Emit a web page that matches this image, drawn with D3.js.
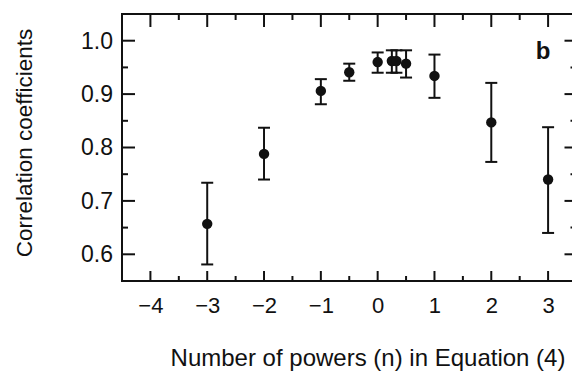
<!doctype html>
<html>
  <head>
    <meta charset="utf-8">
    <script src="https://d3js.org/d3.v7.min.js" charset="utf-8"></script>
    <style>
      body { margin: 0; background: #fff; }
    </style>
  </head>
  <body>
    <script>
    // values
    var powers = [-3, -2, -1, -0.5, 0, 0.25, 0.33, 0.5, 1, 2, 3];
    var coeffs = [0.657, 0.788, 0.906, 0.941, 0.960, 0.962, 0.962, 0.957, 0.934, 0.847, 0.740];
    var upper  = [0.734, 0.837, 0.928, 0.957, 0.978, 0.982, 0.982, 0.982, 0.974, 0.921, 0.838];
    var lower  = [0.581, 0.740, 0.881, 0.925, 0.940, 0.940, 0.940, 0.931, 0.893, 0.773, 0.640];
    var xTicks = [-4, -3, -2, -1, 0, 1, 2, 3];
    var xMinor = [-3.5, -2.5, -1.5, -0.5, 0.5, 1.5, 2.5];
    var yTicks = [0.6, 0.7, 0.8, 0.9, 1.0];
    var yMinor = [0.65, 0.75, 0.85, 0.95];

    var width = 572;
    var height = 373;

    var svg = d3.select("body")
              .append("svg")
              .attr("width", width)
              .attr("height", height);

    var xScale = d3.scaleLinear()
                  .domain([-4.5, 3.5])
                  .range([122, 576.5]);

    var yScale = d3.scaleLinear()
                  .domain([0.55, 1.05])
                  .range([281, 14]);

    var font = "'Liberation Sans', Arial, Helvetica, sans-serif";
    var ink = "#111";

//tick labels from the axis generators
    var bottom = svg.append("g")
      .attr("transform", "translate(0,281)")
      .call(d3.axisBottom(xScale).tickValues(xTicks).tickSize(0).tickPadding(16)
        .tickFormat(function(d) { return d < 0 ? "\u2212" + Math.abs(d) : String(d); }));

    var left = svg.append("g")
      .attr("transform", "translate(122,0)")
      .call(d3.axisLeft(yScale).tickValues(yTicks).tickSize(0).tickPadding(9)
        .tickFormat(d3.format(".1f")));

    svg.selectAll(".domain").remove();

    bottom.selectAll("text")
      .attr("font-family", font)
      .style("font-size", "22px")
      .attr("fill", ink);

    left.selectAll("text")
      .attr("font-family", font)
      .style("font-size", "23px")
      .attr("fill", ink);

//frame
    svg.append("rect")
      .attr("x", xScale(-4.5))
      .attr("y", yScale(1.05))
      .attr("width", xScale(3.5) - xScale(-4.5))
      .attr("height", yScale(0.55) - yScale(1.05))
      .attr("fill", "none")
      .attr("stroke", ink)
      .attr("stroke-width", 2);

//inward ticks on all four sides
    var ticks = svg.append("g")
      .attr("stroke", ink)
      .attr("stroke-width", 2);

    function xTickMarks(vals, y0, len) {
      ticks.selectAll(null)
        .data(vals)
        .enter()
          .append("line")
          .attr("x1", function(d) { return xScale(d); })
          .attr("x2", function(d) { return xScale(d); })
          .attr("y1", y0)
          .attr("y2", y0 + len);
    }

    function yTickMarks(vals, x0, len) {
      ticks.selectAll(null)
        .data(vals)
        .enter()
          .append("line")
          .attr("y1", function(d) { return yScale(d); })
          .attr("y2", function(d) { return yScale(d); })
          .attr("x1", x0)
          .attr("x2", x0 + len);
    }

    xTickMarks(xTicks, yScale(0.55), -10);
    xTickMarks(xMinor, yScale(0.55), -5);
    xTickMarks(xTicks, yScale(1.05), 13);
    xTickMarks(xMinor, yScale(1.05), 6);
    yTickMarks(yTicks, xScale(-4.5), 13);
    yTickMarks(yMinor, xScale(-4.5), 6);
    yTickMarks(yTicks, xScale(3.5), -12);
    yTickMarks(yMinor, xScale(3.5), -6);

//error bars
    var bars = svg.append("g")
      .attr("stroke", ink)
      .attr("stroke-width", 2);

    bars.selectAll(".stem")
      .data(powers)
      .enter()
        .append("line")
        .attr("class", "stem")
        .attr("x1", function(d) { return xScale(d); })
        .attr("x2", function(d) { return xScale(d); })
        .attr("y1", function(d, i) { return yScale(upper[i]); })
        .attr("y2", function(d, i) { return yScale(lower[i]); });

    bars.selectAll(".capTop")
      .data(powers)
      .enter()
        .append("line")
        .attr("class", "capTop")
        .attr("x1", function(d) { return xScale(d) - 6; })
        .attr("x2", function(d) { return xScale(d) + 6; })
        .attr("y1", function(d, i) { return yScale(upper[i]); })
        .attr("y2", function(d, i) { return yScale(upper[i]); });

    bars.selectAll(".capBottom")
      .data(powers)
      .enter()
        .append("line")
        .attr("class", "capBottom")
        .attr("x1", function(d) { return xScale(d) - 6; })
        .attr("x2", function(d) { return xScale(d) + 6; })
        .attr("y1", function(d, i) { return yScale(lower[i]); })
        .attr("y2", function(d, i) { return yScale(lower[i]); });

    svg.append("g").selectAll("circle")
      .data(powers)
      .enter()
        .append("circle")
        .attr("cx", function(d) { return xScale(d); })
        .attr("cy", function(d, i) { return yScale(coeffs[i]); })
        .attr("r", 5.2)
        .attr("fill", ink);

//labels
    svg.append("text")
      .attr("x", 368)
      .attr("y", 366)
      .attr("text-anchor", "middle")
      .attr("font-family", font)
      .style("font-size", "24px")
      .attr("fill", ink)
      .text("Number of powers (n) in Equation (4)");

    svg.append("text")
      .attr("transform", "translate(32,143) rotate(-90)")
      .attr("text-anchor", "middle")
      .attr("font-family", font)
      .style("font-size", "22.5px")
      .attr("fill", ink)
      .text("Correlation coefficients");

    svg.append("text")
      .attr("x", 543)
      .attr("y", 59)
      .attr("text-anchor", "middle")
      .attr("font-family", font)
      .attr("font-weight", "bold")
      .style("font-size", "24px")
      .attr("fill", ink)
      .text("b");
    </script>
  </body>
</html>
